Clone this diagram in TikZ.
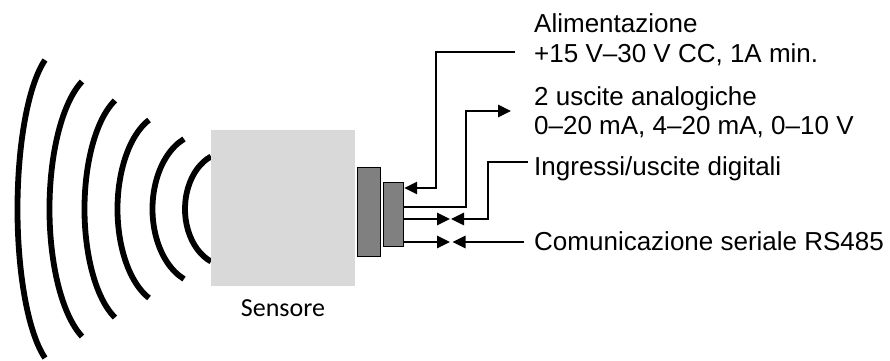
\documentclass[tikz,border=0pt]{standalone}
\usepackage{fontspec}
\setmainfont{Liberation Sans}
\newfontfamily\calibri{Carlito}
\usepackage{tikz}
\usetikzlibrary{arrows.meta,positioning}
\definecolor{bodygray}{HTML}{D9D9D9}
\definecolor{jackgray}{HTML}{808080}

\begin{document}
\begin{tikzpicture}[
  x=1pt,y=1pt,
  wave/.style={line width=5.8pt},
  body/.style={fill=bodygray,minimum width=144pt,minimum height=156pt,inner sep=0pt},
  jack/.style={draw=black,line width=1.3pt,fill=jackgray,inner sep=0pt},
  wire/.style={line width=2.6pt},
  tip/.style={wire,-{Triangle[length=13pt,width=12pt]}},
  txt/.style={anchor=base west,inner sep=0pt,font=\fontsize{26}{31}\selectfont}
]
\useasboundingbox (0,0) rectangle (890,360);

% waves
\foreach \xe/\xl/\h in {211/185/52.5, 184/152.5/70, 149/117.5/89, 115/84.5/108.5, 82/49.5/127.5, 45/17.5/149}{
  \pgfmathsetmacro\rx{(\xe-\xl)/0.6254}
  \pgfmathsetmacro\ry{\h/0.9272}
  \draw[wave] (\xe,151+\h) arc[start angle=112,end angle=248,x radius=\rx pt,y radius=\ry pt];
}

\node[body] (sens) at (283,152) {};
\node[anchor=base,inner sep=0pt,font=\calibri\fontsize{26}{30}\selectfont] (senslbl) at ([yshift=-30.7pt]sens.south) {Sensore};

\node[jack,minimum width=23pt,minimum height=89pt] (jack) at (369,148) {};
\node[jack,minimum width=20pt,minimum height=64pt] (plug) at (393.5,145.5) {};

\node[txt] (pwr1) at (534,327.5) {Alimentazione};
\node[txt] (pwr2) at (534,298) {+15 V–30 V CC, 1A min.};
\node[txt] (ana1) at (534,255) {2 uscite analogiche};
\node[txt] (ana2) at (534,226) {0–20 mA, 4–20 mA, 0–10 V};
\node[txt] (dig) at (534,185) {Ingressi/uscite digitali};
\node[txt] (ser) at (534,110) {Comunicazione seriale RS485};

\coordinate (pwrEnd) at (515,308);
\coordinate (pwrBend) at (436,172);
\coordinate (anaEnd) at (511,249);
\coordinate (anaBend) at (466,153);
\coordinate (digEnd) at (528,198);
\coordinate (digBend) at (488,141);
\coordinate (digTip) at (451,141);
\coordinate (digIn) at (450,141);
\coordinate (serEnd) at (524,118);
\coordinate (serTip) at (452.5,118);
\coordinate (serIn) at (450,118);

\draw[tip] (pwrEnd) -| (pwrBend) -- (plug.east |- pwrBend);
\draw[tip] (plug.east |- anaBend) -- (anaBend) |- (anaEnd);
\draw[tip] (digEnd) -| (digBend) -- (digTip);
\draw[tip] (plug.east |- digIn) -- (digIn);
\draw[tip] (serEnd) -- (serTip);
\draw[tip] (plug.east |- serIn) -- (serIn);
\end{tikzpicture}
\end{document}
